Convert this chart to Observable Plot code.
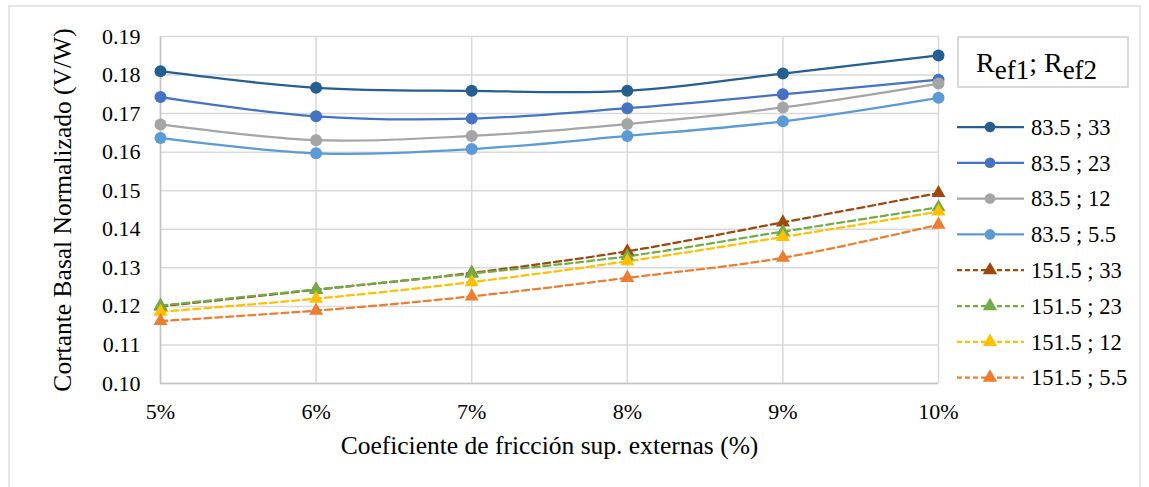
<!DOCTYPE html>
<html>
<head>
<meta charset="utf-8">
<script src="https://cdn.jsdelivr.net/npm/d3@7"></script>
<script src="https://cdn.jsdelivr.net/npm/@observablehq/plot@0.6"></script>
<style>
  html, body { margin: 0; padding: 0; background: #fff; }
  #wrap { position: relative; width: 1149px; height: 487px; overflow: hidden; }
  #frame { position: absolute; left: 8px; top: 5px; width: 1133px; height: 490px; border: 2px solid #e6e6e6; box-sizing: border-box; pointer-events: none; }
  g[aria-label="x-axis label"] text, g[aria-label="y-axis label"] text { font-size: 25.5px; }
</style>
</head>
<body>
<div id="wrap"><div id="frame"></div></div>
<script>
// ---- data ----
const friction = [5, 6, 7, 8, 9, 10];
const seriesNames = ["83.5 ; 33", "83.5 ; 23", "83.5 ; 12", "83.5 ; 5.5",
                     "151.5 ; 33", "151.5 ; 23", "151.5 ; 12", "151.5 ; 5.5"];
const s_83_33  = [0.1810, 0.1767, 0.1759, 0.1759, 0.1804, 0.1851];
const s_83_23  = [0.1743, 0.1693, 0.1687, 0.1714, 0.1750, 0.1788];
const s_83_12  = [0.1672, 0.1631, 0.1642, 0.1673, 0.1716, 0.1778];
const s_83_55  = [0.1637, 0.1597, 0.1608, 0.1642, 0.1680, 0.1741];
const s_151_33 = [0.1200, 0.1243, 0.1287, 0.1343, 0.1418, 0.1494];
const s_151_23 = [0.1202, 0.1244, 0.1285, 0.1330, 0.1394, 0.1457];
const s_151_12 = [0.1186, 0.1220, 0.1263, 0.1317, 0.1380, 0.1446];
const s_151_55 = [0.1162, 0.1189, 0.1226, 0.1274, 0.1326, 0.1412];
const seriesColors = ["#255E91", "#4472C4", "#A5A5A5", "#5B9BD5",
                      "#9E480E", "#70AD47", "#FFC000", "#ED7D31"];
const yTicks = [0.10, 0.11, 0.12, 0.13, 0.14, 0.15, 0.16, 0.17, 0.18, 0.19];
const xTickLabels = ["5%", "6%", "7%", "8%", "9%", "10%"];

const allValues = [s_83_33, s_83_23, s_83_12, s_83_55, s_151_33, s_151_23, s_151_12, s_151_55];
const rows = [];
allValues.forEach((vals, si) => {
  vals.forEach((v, i) => rows.push({series: seriesNames[si], idx: si, x: friction[i], y: v}));
});
const solidRows = rows.filter(d => d.idx < 4);
const dashRows = rows.filter(d => d.idx >= 4);

const W = 1149, H = 487;
const font = "'Liberation Serif', 'Times New Roman', serif";

const marks = [
  Plot.gridY(yTicks, {stroke: "#d9d9d9", strokeOpacity: 1, strokeWidth: 1.5}),
  Plot.gridX(friction, {stroke: "#d9d9d9", strokeOpacity: 1, strokeWidth: 1.5}),
  Plot.ruleX([5], {stroke: "#c4c4c4", strokeWidth: 1.5}),
  Plot.ruleY([0.10], {stroke: "#c4c4c4", strokeWidth: 1.5}),
  Plot.axisY(yTicks, {tickSize: 0, tickPadding: 20, tickFormat: d3.format(".2f"), fontSize: 22,
    label: "Cortante Basal Normalizado (V/W)", labelAnchor: "center", labelOffset: 108, labelArrow: "none"}),
  Plot.axisX(friction, {tickSize: 0, tickPadding: 20, tickFormat: (d, i) => xTickLabels[i], fontSize: 22,
    label: "Coeficiente de fricción sup. externas (%)", labelAnchor: "center", labelOffset: 70, labelArrow: "none"}),
  Plot.line(solidRows, {x: "x", y: "y", z: "series", stroke: "series", strokeWidth: 2.25, curve: "catmull-rom"}),
  Plot.dot(solidRows, {x: "x", y: "y", fill: "series", r: 6, symbol: "circle"}),
  Plot.line(dashRows, {x: "x", y: "y", z: "series", stroke: "series", strokeWidth: 2.25, strokeDasharray: "7,4", curve: "catmull-rom"}),
  Plot.dot(dashRows, {x: "x", y: "y", fill: "series", r: 5.2, symbol: "triangle"})
];

const chart = Plot.plot({
  width: W, height: H,
  marginLeft: 160, marginRight: 211, marginTop: 36, marginBottom: 104,
  style: {fontFamily: font, fontSize: "22px", color: "#000", background: "transparent"},
  x: {type: "linear", domain: [5, 10], inset: 0},
  y: {domain: [0.10, 0.19], nice: false},
  color: {domain: seriesNames, range: seriesColors},
  marks
});
document.getElementById("wrap").prepend(chart);

// ---- legend (drawn into the same SVG) ----
const svg = d3.select(chart);
const lg = svg.append("g").attr("font-family", font).attr("fill", "#000").attr("text-anchor", "start");
// title box
lg.append("rect").attr("x", 958).attr("y", 37).attr("width", 170).attr("height", 50)
  .attr("fill", "#fff").attr("stroke", "#d9d9d9").attr("stroke-width", 2);
const t = lg.append("text").attr("x", 976).attr("y", 72).attr("font-size", 28);
t.append("tspan").text("R");
t.append("tspan").attr("dy", 7).attr("font-size", 27).text("ef1");
t.append("tspan").attr("dy", -7).text("; R");
t.append("tspan").attr("dy", 7).attr("font-size", 27).text("ef2");

const legendY0 = 127, legendStep = 35.8;
seriesNames.forEach((name, i) => {
  const y = legendY0 + i * legendStep;
  const c = seriesColors[i];
  const g = lg.append("g");
  g.append("line").attr("x1", 957).attr("x2", 1024).attr("y1", y).attr("y2", y)
    .attr("stroke", c).attr("stroke-width", 2.25)
    .attr("stroke-dasharray", i >= 4 ? "5,3" : null);
  if (i < 4) {
    g.append("circle").attr("cx", 990).attr("cy", y).attr("r", 5.3).attr("fill", c);
  } else {
    g.append("path").attr("transform", `translate(990,${y})`)
      .attr("d", d3.symbol(d3.symbolTriangle, 90)()).attr("fill", c);
  }
  g.append("text").attr("x", 1031).attr("y", y).attr("dy", "0.35em").attr("font-size", 22.5).text(name);
});
</script>
</body>
</html>
